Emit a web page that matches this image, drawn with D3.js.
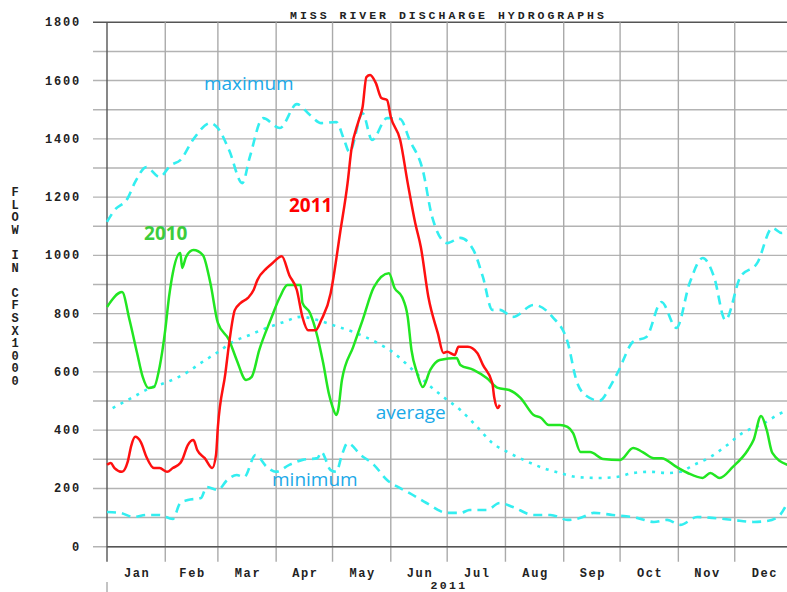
<!DOCTYPE html>
<html><head><meta charset="utf-8">
<script src="https://cdn.jsdelivr.net/npm/d3@7"></script>
<style>
html,body{margin:0;padding:0;background:#fff;}
svg{display:block;}
.mono{font-family:"Liberation Mono","DejaVu Sans Mono",monospace;font-weight:bold;fill:#222;}
.note{font-family:"Open Sans","Noto Sans",sans-serif;}
</style>
</head><body>
<svg id="chart" width="787" height="592"></svg>
<script>
// ---- data (day of year, flow in cfs x1000) ----
const title = "MISS RIVER DISCHARGE HYDROGRAPHS";
const yAxisTitle = "FLOW IN CFSX1000";
const yearLabel = "2011";
const months = ["Jan","Feb","Mar","Apr","May","Jun","Jul","Aug","Sep","Oct","Nov","Dec"];
const monthStarts = [0,31,59,90,120,151,181,212,243,273,304,334,365];
const yTickLabels = [0,200,400,600,800,1000,1200,1400,1600,1800];

const maximum = [[0,1115],[4,1155],[11,1196],[15,1252],[21,1303],[28,1269],[34,1310],[39,1327],[46,1399],[55,1454],[59,1437],[65,1361],[72,1248],[76,1338],[83,1471],[92,1437],[101,1519],[108,1482],[114,1454],[122,1458],[126,1400],[129,1355],[136,1488],[141,1396],[149,1471],[156,1468],[161,1396],[168,1293],[173,1132],[181,1042],[188,1060],[195,1018],[200,926],[205,813],[209,813],[216,789],[227,830],[237,789],[245,704],[250,566],[255,518],[262,501],[268,553],[272,601],[280,704],[287,720],[295,840],[303,751],[310,905],[317,991],[323,926],[329,778],[337,926],[346,974],[354,1094],[359,1077],[364,1100]];

const average = [[3,476],[14,514],[23,545],[32,565],[43,600],[50,631],[59,668],[67,703],[76,727],[85,751],[94,771],[103,789],[112,778],[120,761],[131,737],[144,699],[152,668],[161,617],[170,562],[179,514],[188,469],[197,411],[205,356],[214,322],[224,291],[232,270],[241,253],[250,239],[262,236],[271,239],[280,253],[289,257],[298,253],[305,257],[312,280],[321,308],[330,349],[338,390],[348,418],[360,462],[365,470]];

const minimum = [[0,119],[7,116],[14,102],[21,109],[28,109],[35,95],[39,150],[43,160],[50,167],[53,205],[59,195],[64,229],[69,246],[73,239],[79,315],[85,274],[90,257],[97,281],[104,298],[112,304],[114,325],[119,263],[122,257],[125,315],[128,356],[135,315],[142,281],[149,229],[156,201],[161,184],[170,150],[181,116],[188,116],[193,126],[202,126],[209,150],[216,136],[227,109],[236,109],[245,92],[252,99],[259,116],[269,109],[282,99],[291,85],[298,92],[305,75],[314,102],[322,99],[333,92],[344,85],[351,88],[357,102],[362,150]];

const flow2010 = [[0,823],[8,874],[12,778],[16,665],[19,583],[22,545],[25,548],[28,617],[31,744],[33,857],[35,939],[39,1008],[40,957],[42,994],[46,1018],[51,1001],[55,905],[59,768],[65,709],[69,641],[74,572],[77,583],[81,675],[87,778],[92,857],[96,898],[103,898],[104,837],[108,802],[112,720],[115,631],[118,527],[120,480],[122,452],[123,469],[125,572],[131,686],[136,778],[142,891],[150,939],[153,888],[157,857],[160,789],[162,675],[165,596],[168,548],[172,607],[177,641],[186,648],[188,624],[195,607],[202,579],[208,545],[214,538],[220,511],[227,452],[231,442],[235,418],[241,418],[245,411],[248,390],[252,325],[257,325],[264,301],[273,298],[280,339],[285,325],[291,304],[295,304],[303,274],[309,253],[317,236],[321,253],[326,236],[333,274],[341,332],[344,366],[348,449],[351,401],[354,322],[362,281],[365,275]];

const flow2011 = [[0,281],[2,287],[4,270],[8,257],[11,291],[13,349],[15,377],[18,359],[21,308],[25,270],[28,270],[32,257],[35,270],[39,287],[40,298],[43,349],[46,366],[48,332],[52,304],[56,270],[58,315],[59,411],[63,596],[65,699],[68,812],[71,836],[75,854],[78,881],[80,915],[85,956],[88,973],[93,997],[97,932],[101,881],[104,788],[107,743],[111,743],[114,778],[119,870],[120,905],[124,1076],[128,1248],[130,1361],[134,1464],[136,1509],[138,1612],[140,1619],[143,1592],[146,1540],[149,1533],[151,1475],[156,1396],[160,1248],[164,1111],[167,1028],[171,857],[176,733],[179,665],[181,669],[185,658],[187,686],[192,686],[197,665],[200,624],[205,562],[206,514],[208,476],[209,487]];

const notes = [
  {text:"maximum", day:51.6, v:1568, color:"#1aa9e8", bold:false},
  {text:"2011", day:96.8, v:1149, color:"#ff0000", bold:true},
  {text:"2010", day:19.7, v:1053, color:"#3ccc3c", bold:true},
  {text:"average", day:143, v:439, color:"#1aa9e8", bold:false},
  {text:"minimum", day:87.8, v:210, color:"#1aa9e8", bold:false}
];

// ---- drawing ----
const svg = d3.select("#chart");
const x = d3.scaleLinear().domain([0,365]).range([107,793]);
const y = d3.scaleLinear().domain([0,1800]).range([546.7,22.3]);

// horizontal grid
svg.append("g").selectAll("line").data(d3.range(0,1801,100)).join("line")
  .attr("x1",93).attr("x2",787).attr("y1",d=>y(d)).attr("y2",d=>y(d))
  .attr("stroke",d=>d===1800?"#555":"#b3b3b3").attr("stroke-width",1.4);
// vertical grid (month boundaries)
svg.append("g").selectAll("line").data(monthStarts.slice(1,12)).join("line")
  .attr("x1",d=>x(d)).attr("x2",d=>x(d)).attr("y1",y(1800)).attr("y2",y(0)+15)
  .attr("stroke","#aaaaaa").attr("stroke-width",1.4);
// axes lines
svg.append("line").attr("x1",x(0)).attr("x2",x(0)).attr("y1",y(1800)).attr("y2",y(0)+15)
  .attr("stroke","#555").attr("stroke-width",1.4);
svg.append("line").attr("x1",x(0)).attr("x2",787).attr("y1",y(0)).attr("y2",y(0))
  .attr("stroke","#555").attr("stroke-width",1.6);
svg.append("line").attr("x1",x(0)).attr("x2",x(0)).attr("y1",582).attr("y2",592)
  .attr("stroke","#888").attr("stroke-width",1);

// y tick labels
svg.append("g").selectAll("text").data(yTickLabels).join("text")
  .attr("class","mono").attr("x",81).attr("y",d=>y(d)+4)
  .attr("text-anchor","end").attr("font-size",12).attr("letter-spacing",1.8)
  .text(d=>String(d));

// month labels
svg.append("g").selectAll("text").data(months).join("text")
  .attr("class","mono").attr("x",(d,i)=>(x(monthStarts[i])+x(monthStarts[i+1]))/2+1)
  .attr("y",577).attr("text-anchor","middle").attr("font-size",12).attr("letter-spacing",1.6)
  .text(d=>d);
svg.append("text").attr("class","mono").attr("x",449).attr("y",589)
  .attr("text-anchor","middle").attr("font-size",11.5).attr("letter-spacing",2.4).text(yearLabel);

// title
svg.append("text").attr("class","mono").attr("x",290).attr("y",19)
  .attr("font-size",11.5).attr("letter-spacing",3.0).text(title);

// y axis title stacked
svg.append("g").selectAll("text").data(yAxisTitle.split("")).join("text")
  .attr("class","mono").attr("x",15).attr("y",(d,i)=>196+i*12.6)
  .attr("text-anchor","middle").attr("font-size",12).text(d=>d);

// series
const line = d3.line().x(d=>x(d[0])).y(d=>y(d[1])).curve(d3.curveMonotoneX);
const cyan = "#33eef0";
svg.append("path").datum(maximum).attr("d",line).attr("fill","none")
  .attr("stroke",cyan).attr("stroke-width",2.6).attr("stroke-dasharray","9,6");
svg.append("path").datum(minimum).attr("d",line).attr("fill","none")
  .attr("stroke",cyan).attr("stroke-width",2.6).attr("stroke-dasharray","9,6");
svg.append("path").datum(average).attr("d",line).attr("fill","none")
  .attr("stroke",cyan).attr("stroke-width",2.6).attr("stroke-dasharray","3,6");
svg.append("path").datum(flow2010).attr("d",line).attr("fill","none")
  .attr("stroke","#22e622").attr("stroke-width",2.5).attr("stroke-linejoin","round");
svg.append("path").datum(flow2011).attr("d",line).attr("fill","none")
  .attr("stroke","#ff1010").attr("stroke-width",2.5).attr("stroke-linejoin","round");

// annotations
svg.append("g").selectAll("text").data(notes).join("text")
  .attr("class","note").attr("x",d=>x(d.day)).attr("y",d=>y(d.v))
  .attr("font-size",d=>d.bold?19:19).attr("font-weight",d=>d.bold?"bold":"normal")
  .attr("fill",d=>d.color).text(d=>d.text);
</script>
</body></html>
